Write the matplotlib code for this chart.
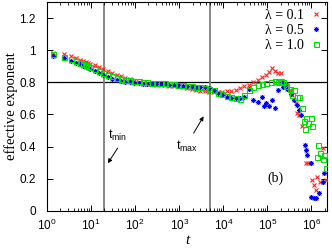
import math
import matplotlib
matplotlib.use("Agg")
import matplotlib.pyplot as plt
from matplotlib.ticker import LogLocator, FuncFormatter, FixedLocator, NullLocator, NullFormatter

plt.rcParams["mathtext.fontset"] = "custom"
plt.rcParams["mathtext.rm"] = "Liberation Sans"
plt.rcParams["mathtext.it"] = "Liberation Sans:italic"
plt.rcParams["font.family"] = ["Liberation Sans", "DejaVu Sans"]

# smooth part, shared time grid
t_common = [1.4, 2.4, 3.5, 4.5, 5.5, 6.5, 7.5, 8.5, 9.5, 12, 15, 19, 24, 30, 38,
            48, 60, 75, 95, 120, 150, 190, 240, 300, 380, 480, 600, 750, 950,
            1200, 1500, 1900, 2400, 3000, 3800, 4800, 6000, 7500, 9500, 12000,
            15000, 19000, 24000, 30000, 38000, 48000, 60000, 75000, 95000]

red_common = [0.98, 0.975, 0.965, 0.95, 0.94, 0.935, 0.928, 0.922, 0.917, 0.905,
              0.895, 0.885, 0.872, 0.86, 0.848, 0.837, 0.826, 0.818, 0.81, 0.803,
              0.797, 0.792, 0.788, 0.785, 0.783, 0.781, 0.78, 0.778, 0.775, 0.77,
              0.765, 0.758, 0.752, 0.747, 0.744, 0.741, 0.74, 0.74, 0.742, 0.745,
              0.748, 0.755, 0.765, 0.775, 0.785, 0.80, 0.815, 0.83, 0.845]
blue_common = [0.965, 0.95, 0.935, 0.922, 0.912, 0.903, 0.895, 0.888, 0.88, 0.868,
               0.855, 0.843, 0.832, 0.822, 0.815, 0.808, 0.803, 0.799, 0.796, 0.794,
               0.792, 0.791, 0.79, 0.789, 0.788, 0.787, 0.786, 0.784, 0.782, 0.78,
               0.778, 0.775, 0.772, 0.77, 0.768, 0.765, 0.755, 0.735, 0.72, 0.71,
               0.705, 0.70, 0.70, 0.71, 0.76, 0.69, 0.68, 0.71, 0.67]
green_common = [0.975, 0.96, 0.945, 0.932, 0.922, 0.915, 0.908, 0.90, 0.895, 0.882,
                0.87, 0.858, 0.847, 0.837, 0.829, 0.822, 0.817, 0.812, 0.808, 0.805,
                0.803, 0.80, 0.798, 0.797, 0.795, 0.793, 0.79, 0.788, 0.785, 0.782,
                0.778, 0.775, 0.772, 0.768, 0.765, 0.76, 0.75, 0.735, 0.725, 0.715,
                0.71, 0.70, 0.695, 0.72, 0.75, 0.77, 0.785, 0.79, 0.795]

# noisy tail, each series on its own times
t_red_tail = [1.1e5, 1.3e5, 1.5e5, 1.7e5, 2.05e5, 2.7e5, 3.2e5, 3.7e5, 4.5e5, 4.8e5,
              5.2e5, 6.2e5, 7.6e5, 8.2e5, 1.02e6, 1.13e6, 1.25e6, 1.35e6, 1.6e6,
              1.85e6, 2.1e6]
red_tail = [0.862, 0.886, 0.87, 0.86, 0.855, 0.79, 0.75, 0.72, 0.67, 0.61,
            0.594, 0.53, 0.30, 0.295, 0.19, 0.16, 0.13, 0.21, 0.178, 0.39, 0.19]

t_blue_tail = [8.5e4, 1.1e5, 1.3e5, 1.45e5, 1.7e5, 2.1e5, 2.3e5, 2.6e5, 2.8e5, 3.5e5,
               4.1e5, 4.7e5, 5.2e5, 5.8e5, 7.0e5, 7.6e5, 8.0e5, 9.9e5, 1.0e6,
               1.13e6, 1.25e6, 1.5e6, 1.8e6, 1.95e6]
blue_tail = [0.655, 0.65, 0.69, 0.64, 0.75, 0.80, 0.77, 0.79, 0.76, 0.73,
             0.69, 0.656, 0.625, 0.594, 0.41, 0.377, 0.345, 0.30, 0.085,
             0.08, 0.08, 0.11, 0.178, 0.234]

t_green_tail = [1.2e5, 1.5e5, 1.7e5, 2.0e5, 2.3e5, 2.6e5, 3.2e5, 3.7e5, 4.1e5, 4.7e5,
                5.3e5, 6.2e5, 6.6e5, 7.0e5, 7.5e5, 8.5e5, 9.9e5, 1.03e6, 1.3e6,
                1.38e6, 1.6e6, 1.8e6, 1.95e6, 2.1e6]
green_tail = [0.80, 0.805, 0.80, 0.81, 0.80, 0.78, 0.76, 0.72, 0.75, 0.71,
              0.71, 0.64, 0.56, 0.51, 0.58, 0.545, 0.575, 0.53, 0.335,
              0.41, 0.36, 0.325, 0.345, 0.265]

labels = ["λ = 0.1", "λ = 0.5", "λ = 1.0"]
x_ticks = [1, 10, 100, 1e3, 1e4, 1e5, 1e6]
y_ticks = [0, 0.2, 0.4, 0.6, 0.8, 1.0, 1.2]
t_min, t_max = 20, 5000

fig = plt.figure(figsize=(3.32, 2.5), dpi=100)
ax = fig.add_axes([0.1416, 0.157, 0.8434, 0.835])

ax.axhline(0.8, color="black", lw=0.9, zorder=1)
ax.axvline(t_min, color="#808080", lw=1.3, zorder=1)
ax.axvline(t_max, color="#808080", lw=1.3, zorder=1)

ax.plot(t_common + t_red_tail, red_common + red_tail, ls="none", marker="x",
        ms=3.5, mew=0.8, color="#ff2020", label=labels[0], zorder=3)
ax.plot(t_common + t_blue_tail, blue_common + blue_tail, ls="none", marker=(8, 2, 0),
        ms=3.6, mew=0.6, color="#0000ff", label=labels[1], zorder=3)
ax.plot(t_common + t_green_tail, green_common + green_tail, ls="none", marker="s",
        ms=3.6, mew=0.8, mfc="none", color="#00dd00", label=labels[2], zorder=3)

ax.set_xscale("log")
ax.set_xlim(1, 2.25e6)
ax.set_ylim(0, 1.3)

ax.xaxis.set_major_locator(FixedLocator(x_ticks))
ax.xaxis.set_minor_locator(LogLocator(base=10, subs=range(2, 10), numticks=20))
ax.xaxis.set_minor_formatter(NullFormatter())
ax.xaxis.set_major_formatter(FuncFormatter(lambda v, p: r"$10^{%d}$" % round(math.log10(v))))
ax.yaxis.set_major_locator(FixedLocator(y_ticks))
ax.yaxis.set_minor_locator(NullLocator())
ax.yaxis.set_major_formatter(FuncFormatter(lambda v, p: "%g" % v))

ax.tick_params(which="both", direction="in", top=True, right=True, labelsize=8.5)
ax.tick_params(which="major", length=4, width=0.7)
ax.tick_params(which="minor", length=2.2, width=0.6)
ax.tick_params(axis="y", pad=8)
ax.tick_params(axis="x", pad=5)
for s in ax.spines.values():
    s.set_linewidth(0.8)

serif = ["Liberation Serif", "DejaVu Serif"]
ax.set_ylabel("effective exponent", family=serif, fontsize=10.5, labelpad=1)
ax.set_xlabel("t", family=serif, style="italic", fontsize=11, labelpad=1)

ax.annotate("", xy=(24, 0.296), xytext=(40, 0.39),
            arrowprops=dict(arrowstyle="-|>", color="black", lw=0.7,
                            mutation_scale=6, shrinkA=0, shrinkB=0))
ax.text(24, 0.47, r"t$_{\mathrm{min}}$", fontsize=9, va="center", ha="left")
ax.annotate("", xy=(3560, 0.588), xytext=(2120, 0.483),
            arrowprops=dict(arrowstyle="-|>", color="black", lw=0.7,
                            mutation_scale=6, shrinkA=0, shrinkB=0))
ax.text(830, 0.40, r"t$_{\mathrm{max}}$", fontsize=9, va="center", ha="left")
ax.text(1.5e5, 0.203, "(b)", family=serif, fontsize=10, ha="center", va="center")

leg = ax.legend(loc="upper right", markerfirst=False, frameon=False,
                prop={"family": serif, "size": 10}, handlelength=0.6,
                handletextpad=0.6, labelspacing=0.15, borderaxespad=0.3,
                borderpad=0.2)

fig.savefig("out.png", dpi=100)
